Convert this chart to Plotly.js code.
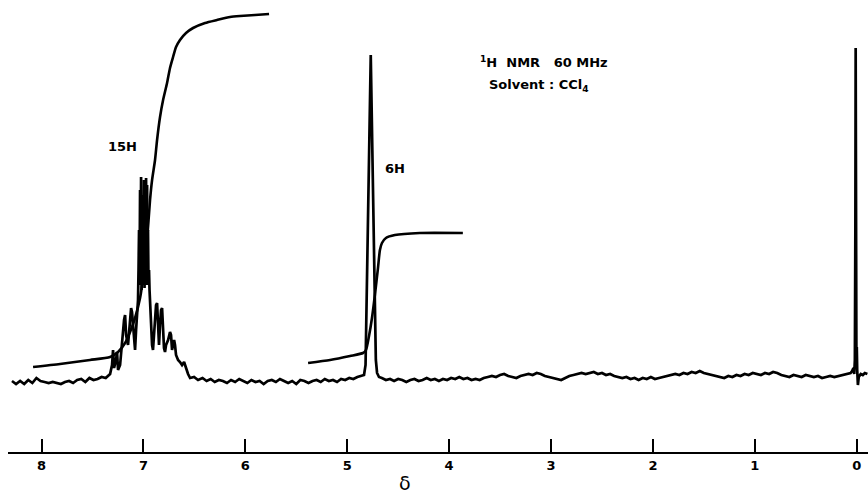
<!DOCTYPE html>
<html>
<head>
<meta charset="utf-8">
<script src="https://cdn.plot.ly/plotly-3.0.1.min.js"></script>
<style>html,body{margin:0;padding:0;background:#fff;}#chart{width:868px;height:495px;}</style>
</head>
<body>
<div id="chart"></div>
<script>
// Chemical shift ticks (ppm)
const tickVals = [8, 7, 6, 5, 4, 3, 2, 1, 0];
const tickText = ['8', '7', '6', '5', '4', '3', '2', '1', '0'];

// Spectrum segments (ppm, relative intensity above baseline)
const leftBasePpm = [8.29,8.25,8.21,8.17,8.13,8.09,8.05,8.01,7.97,7.93,7.89,7.85,7.81,7.77,7.73,7.69,7.65,7.61,7.57,7.53,7.49,7.45,7.41,7.37];
const leftBaseInt = [-1,-4,-1,-4,0,-3,2,-1,-2,-3,-2,-3,-4,-2,-1,-3,0,1,-2,2,0,1,3,2];

const aromPpm = [7.327,7.308,7.298,7.288,7.269,7.259,7.249,7.229,7.210,7.190,7.180,7.170,7.151,7.141,7.121,7.112,7.092,7.082,7.072,
  7.053,7.048,7.043,7.038,7.033,7.028,7.023,7.018,7.013,7.008,7.004,6.999,6.994,6.989,6.984,6.979,6.974,6.969,6.964,6.959,6.955,6.950,6.945,6.940,6.935,
  6.925,6.915,6.906,6.896,6.886,6.876,6.866,6.856,6.847,6.837,6.827,6.817,6.807,6.798,6.788,6.778,6.758,6.739,6.729,6.719,6.699,6.690,6.680,6.660,6.641,6.621,6.601,6.582,6.562,6.542,6.503,6.464];
const aromInt = [6,15,30,12,20,28,10,15,40,60,65,45,35,50,72,68,35,30,50,
  80,110,150,100,190,95,203,90,170,100,185,95,200,92,150,100,202,95,195,100,150,95,110,90,80,
  50,35,30,45,60,75,77,50,35,55,70,72,50,32,28,35,40,48,45,30,40,35,25,20,18,15,18,12,6,2,3,0];

const midBasePpm = [6.42,6.38,6.34,6.30,6.26,6.22,6.18,6.14,6.10,6.06,6.02,5.98,5.94,5.90,5.86,5.82,5.78,5.74,5.70,5.66,5.62,5.58,5.54,5.50,5.46,5.42,5.38,5.34,5.30,5.26,5.22,5.18,5.14,5.10,5.06,5.02,4.98,4.94,4.90,4.86];
const midBaseInt = [2,-1,1,-2,0,-1,-3,0,-2,1,-1,-3,0,-2,-1,-4,-1,0,-2,1,-1,-3,-1,-4,0,-1,-3,-1,0,-2,1,-1,0,-2,1,0,2,1,3,4];

const singPpm = [4.835,4.820,4.806,4.791,4.778,4.769,4.760,4.747,4.732,4.719,4.707,4.688];
const singInt = [5,15,90,180,270,325,270,180,90,20,7,3];

const rightBasePpm = [4.66,4.62,4.58,4.54,4.50,4.46,4.42,4.38,4.34,4.30,4.26,4.22,4.18,4.14,4.10,4.06,4.02,3.98,3.94,3.90,3.86,3.82,3.78,3.74,3.70,3.66,3.62,3.58,3.54,3.50,3.46,3.42,3.38,3.34,3.30,3.26,3.22,3.18,3.14,3.10,3.06,3.02,2.98,2.94,2.90,2.86,2.82,2.78,2.74,2.70,2.66,2.62,2.58,2.54,2.50,2.46,2.42,2.38,2.34,2.30,2.26,2.22,2.18,2.14,2.10,2.06,2.02,1.98,1.94,1.90,1.86,1.82,1.78,1.74,1.70,1.66,1.62,1.58,1.54,1.50,1.46,1.42,1.38,1.34,1.30,1.26,1.22,1.18,1.14,1.10,1.06,1.02,0.98,0.94,0.90,0.86,0.82,0.78,0.74,0.70,0.66,0.62,0.58,0.54,0.50,0.46,0.42,0.38,0.34,0.30,0.26,0.22,0.18,0.14,0.10,0.06];
const rightBaseInt = [2,0,1,-1,1,0,-2,0,1,-1,0,2,0,1,-1,1,0,2,1,3,1,2,0,1,0,2,3,4,3,5,6,4,3,2,4,5,6,5,7,6,4,3,2,1,0,2,4,5,6,7,6,7,8,6,7,5,6,4,3,2,3,1,2,0,2,1,3,1,2,3,4,5,6,5,7,6,8,7,9,7,6,5,4,3,2,4,3,5,4,6,5,7,6,5,7,6,8,7,5,4,3,5,4,3,5,4,3,4,2,3,4,3,4,5,6,7];

const tmsPpm = [0.045,0.032,0.024,0.018,0.013,0.010,0.007,0.003,-0.001,-0.005,-0.012,-0.020,-0.040,-0.060,-0.080,-0.105];
const tmsInt = [9,12,6,20,150,332,200,30,33,10,-5,3,6,5,7,6];

// Integral curves
const integ1Ppm = [8.083,7.818,7.524,7.327,7.249,7.180,7.131,7.082,7.033,6.994,6.964,6.935,6.915,6.886,6.866,6.837,6.807,6.768,6.739,6.709,6.680,6.641,6.582,6.513,6.395,6.278,6.150,6.052,5.905,5.767];
const integ1Val = [13,16,20,23,28,37,48,62,82,110,140,180,200,220,240,263,280,297,312,323,333,340,347,352,357,360,363,364,365,366];
const integ2Ppm = [5.384,5.168,4.972,4.845,4.816,4.786,4.757,4.727,4.698,4.679,4.659,4.620,4.532,4.287,3.865];
const integ2Val = [17,20,24,27,30,44,62,86,112,130,137,142,145,147,147];

const specPpm = [].concat(leftBasePpm, aromPpm, midBasePpm, singPpm, rightBasePpm, tmsPpm);
const specInt = [].concat(leftBaseInt, aromInt, midBaseInt, singInt, rightBaseInt, tmsInt);

const traces = [
  {x: specPpm, y: specInt, type: 'scatter', mode: 'lines', line: {color: '#000', width: 2.7, shape: 'linear'}, hoverinfo: 'skip'},
  {x: integ1Ppm, y: integ1Val, type: 'scatter', mode: 'lines', line: {color: '#000', width: 2.6, shape: 'spline', smoothing: 0.6}, hoverinfo: 'skip'},
  {x: integ2Ppm, y: integ2Val, type: 'scatter', mode: 'lines', line: {color: '#000', width: 2.6, shape: 'spline', smoothing: 0.6}, hoverinfo: 'skip'}
];

const txtFont = {family: 'DejaVu Sans', size: 13, color: '#000', weight: 'bold'};
const layout = {
  width: 868, height: 495,
  margin: {l: 8, r: 0, t: 0, b: 43, pad: 0},
  paper_bgcolor: '#fff', plot_bgcolor: '#fff',
  showlegend: false,
  xaxis: {
    range: [8.329, -0.111],
    tickmode: 'array', tickvals: tickVals, ticktext: tickText,
    ticks: 'inside', ticklen: 13, tickwidth: 2, tickcolor: '#000',
    showline: true, linewidth: 2, linecolor: '#000',
    showgrid: false, zeroline: false,
    tickfont: {family: 'DejaVu Sans', size: 13, color: '#000', weight: 'bold'},
    fixedrange: true
  },
  yaxis: {range: [-72, 380], visible: false, showgrid: false, zeroline: false, fixedrange: true},
  annotations: [
    {x: 7.21, y: 234, xref: 'x', yref: 'y', text: '15H', showarrow: false, font: txtFont, xanchor: 'center', yanchor: 'middle'},
    {x: 4.53, y: 212, xref: 'x', yref: 'y', text: '6H', showarrow: false, font: txtFont, xanchor: 'center', yanchor: 'middle'},
    {x: 3.72, y: 318, xref: 'x', yref: 'y', text: '<sup>1</sup>H  NMR   60 MHz', showarrow: false, font: txtFont, xanchor: 'left', yanchor: 'middle'},
    {x: 3.63, y: 295, xref: 'x', yref: 'y', text: 'Solvent : CCl<sub>4</sub>', showarrow: false, font: txtFont, xanchor: 'left', yanchor: 'middle'},
    {x: 4.433, y: -0.068, xref: 'x', yref: 'paper', text: 'δ', showarrow: false, font: {family: 'DejaVu Sans', size: 19, color: '#000'}, xanchor: 'center', yanchor: 'middle'}
  ]
};

Plotly.newPlot('chart', traces, layout, {staticPlot: true, displayModeBar: false});
</script>
</body>
</html>
